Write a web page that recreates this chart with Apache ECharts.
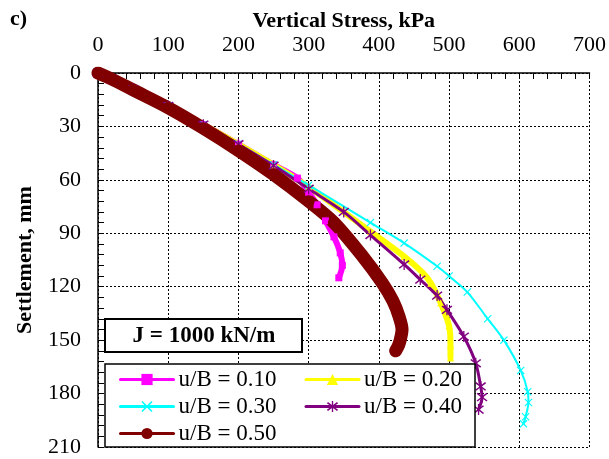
<!DOCTYPE html>
<html>
<head>
<meta charset="utf-8">
<script src="https://cdn.jsdelivr.net/npm/echarts@6.0.0/dist/echarts.min.js"></script>
<style>
  html, body { margin: 0; padding: 0; background: #fff; }
  #chart { width: 609px; height: 459px; }
</style>
</head>
<body>
<div id="chart"></div>
<script>
// values (stress in kPa, settlement in mm)
const stress10 = [0, 20, 50, 100, 150, 200, 250, 284, 300, 312, 324, 336, 345, 348, 343];
const settle10 = [0, 3.5, 9, 18.5, 29, 40, 51.5, 59, 67, 74, 83, 92, 101, 108, 115];

const stress20 = [0, 20, 50, 100, 150, 200, 250, 300, 388, 436, 462, 474, 488, 500, 502, 502];
const settle20 = [0, 3.5, 9, 18.5, 29, 40, 51.5, 64, 89, 103, 112, 118, 129, 142, 153, 160];

const stress30 = [0, 20, 50, 100, 150, 200, 250, 300, 388, 436, 483, 500, 526, 555, 578, 602, 612, 613, 609, 606];
const settle30 = [0, 3.5, 9, 18.5, 29, 40, 51.5, 63, 84, 95.5, 108.5, 114, 123, 138, 150, 167, 179, 185, 193, 197];

const stress40 = [0, 20, 50, 100, 150, 200, 250, 300, 350, 388, 436, 459, 483, 497, 521, 538, 545, 547, 542];
const settle40 = [0, 3.5, 9, 18.5, 29, 40, 52, 65, 78, 91, 107.5, 116, 125, 133, 148, 163, 176, 182, 189];

const stress50 = [0, 20, 50, 100, 150, 200, 250, 300, 336, 375, 405, 420, 429, 433, 431, 428, 424];
const settle50 = [0, 3.5, 9.5, 19.5, 31, 43.5, 57, 72, 84, 102, 118, 128, 137, 144, 149, 153, 156];

const seriesNames = ['u/B = 0.10', 'u/B = 0.20', 'u/B = 0.30', 'u/B = 0.40', 'u/B = 0.50'];

// axis ranges
const stressAxis = { min: 0, max: 700, step: 100 };
const settleAxis = { min: 0, max: 210, step: 30 };

const FONT = 'Liberation Serif';

// custom marker shapes (x and asterisk)
const crossPath = 'path://M0,1 L1,0 L5,4 L9,0 L10,1 L6,5 L10,9 L9,10 L5,6 L1,10 L0,9 L4,5 Z';
const starPath = 'path://M0,2 L1,1 L5,4.2 L9,1 L10,2 L6,5 L10,8 L9,9 L5,5.8 L1,9 L0,8 L4,5 Z M4.4,0 L5.6,0 L5.6,10 L4.4,10 Z';

function pairs(xs, ys) {
  return xs.map((x, i) => [x, ys[i]]);
}

function makeSeries(name, xs, ys, color, symbol, size, width) {
  return {
    name: name,
    type: 'line',
    data: pairs(xs, ys),
    smooth: 0.3,
    symbol: symbol,
    symbolSize: size,
    showSymbol: true,
    itemStyle: { color: color },
    lineStyle: { color: color, width: width, cap: 'round', join: 'round' },
    emphasis: { disabled: true }
  };
}

let chart = echarts.init(document.getElementById('chart'));

const option = {
  animation: false,
  backgroundColor: '#fff',
  grid: { left: 98, right: 19, top: 73, bottom: 12 },
  xAxis: {
    type: 'value',
    position: 'top',
    min: stressAxis.min,
    max: stressAxis.max,
    interval: stressAxis.step,
    name: 'Vertical Stress, kPa',
    nameLocation: 'middle',
    nameGap: 41,
    nameMoveOverlap: false,
    nameTextStyle: { fontFamily: FONT, fontSize: 22, fontWeight: 'bold', color: '#000' },
    axisLine: { onZero: false, lineStyle: { color: '#000', width: 1.5 } },
    axisTick: { show: true, inside: true, length: 6, lineStyle: { color: '#000' } },
    minorTick: { show: true, splitNumber: 5, length: 6, lineStyle: { color: '#000' } },
    axisLabel: { margin: 17, fontFamily: FONT, fontSize: 22, color: '#000' },
    splitLine: { show: true, lineStyle: { color: '#000', width: 1, type: [2, 2] } }
  },
  yAxis: {
    type: 'value',
    inverse: true,
    min: settleAxis.min,
    max: settleAxis.max,
    interval: settleAxis.step,
    name: 'Settlement, mm',
    nameLocation: 'middle',
    nameGap: 62,
    nameMoveOverlap: false,
    nameTextStyle: { fontFamily: FONT, fontSize: 22, fontWeight: 'bold', color: '#000' },
    axisLine: { onZero: false, lineStyle: { color: '#000', width: 1.5 } },
    axisTick: { show: true, inside: true, length: 6, lineStyle: { color: '#000' } },
    minorTick: { show: true, splitNumber: 5, length: 6, lineStyle: { color: '#000' } },
    axisLabel: { margin: 17, fontFamily: FONT, fontSize: 22, color: '#000' },
    splitLine: { show: true, lineStyle: { color: '#000', width: 1, type: [2, 2] } }
  },
  legend: {
    z: 20,
    left: 119,
    top: 368,
    width: 370,
    padding: 0,
    itemGap: 4,
    itemWidth: 53,
    itemHeight: 14,
    textStyle: { fontFamily: FONT, fontSize: 23, lineHeight: 23, color: '#000', width: 122 },
    data: seriesNames.map(n => ({ name: n, lineStyle: { width: 3 } }))
  },
  graphic: [
    { type: 'text', z: 10, style: { text: 'c)', x: 10, y: 19, fontFamily: FONT, fontSize: 22, fontWeight: 'bold', fill: '#000', verticalAlign: 'middle' } },
    { type: 'rect', z: 10, shape: { x: 105, y: 364, width: 370, height: 83 }, style: { fill: '#fff', stroke: '#000', lineWidth: 1.5 } },
    { type: 'rect', z: 10, shape: { x: 105, y: 319, width: 197, height: 33 }, style: { fill: '#fff', stroke: '#000', lineWidth: 2 } },
    { type: 'text', z: 11, style: { text: 'J = 1000 kN/m', x: 204, y: 336, align: 'center', verticalAlign: 'middle', fontFamily: FONT, fontSize: 23, fontWeight: 'bold', fill: '#000' } }
  ],
  series: [
    makeSeries(seriesNames[0], stress10, settle10, '#FF00FF', 'rect', 7, 6),
    makeSeries(seriesNames[1], stress20, settle20, '#FFFF00', 'triangle', 7, 6),
    makeSeries(seriesNames[2], stress30, settle30, '#00FFFF', crossPath, 8, 2),
    makeSeries(seriesNames[3], stress40, settle40, '#800080', starPath, 11, 3),
    makeSeries(seriesNames[4], stress50, settle50, '#800000', 'circle', 12, 13)
  ]
};

chart.setOption(option);
</script>
</body>
</html>
